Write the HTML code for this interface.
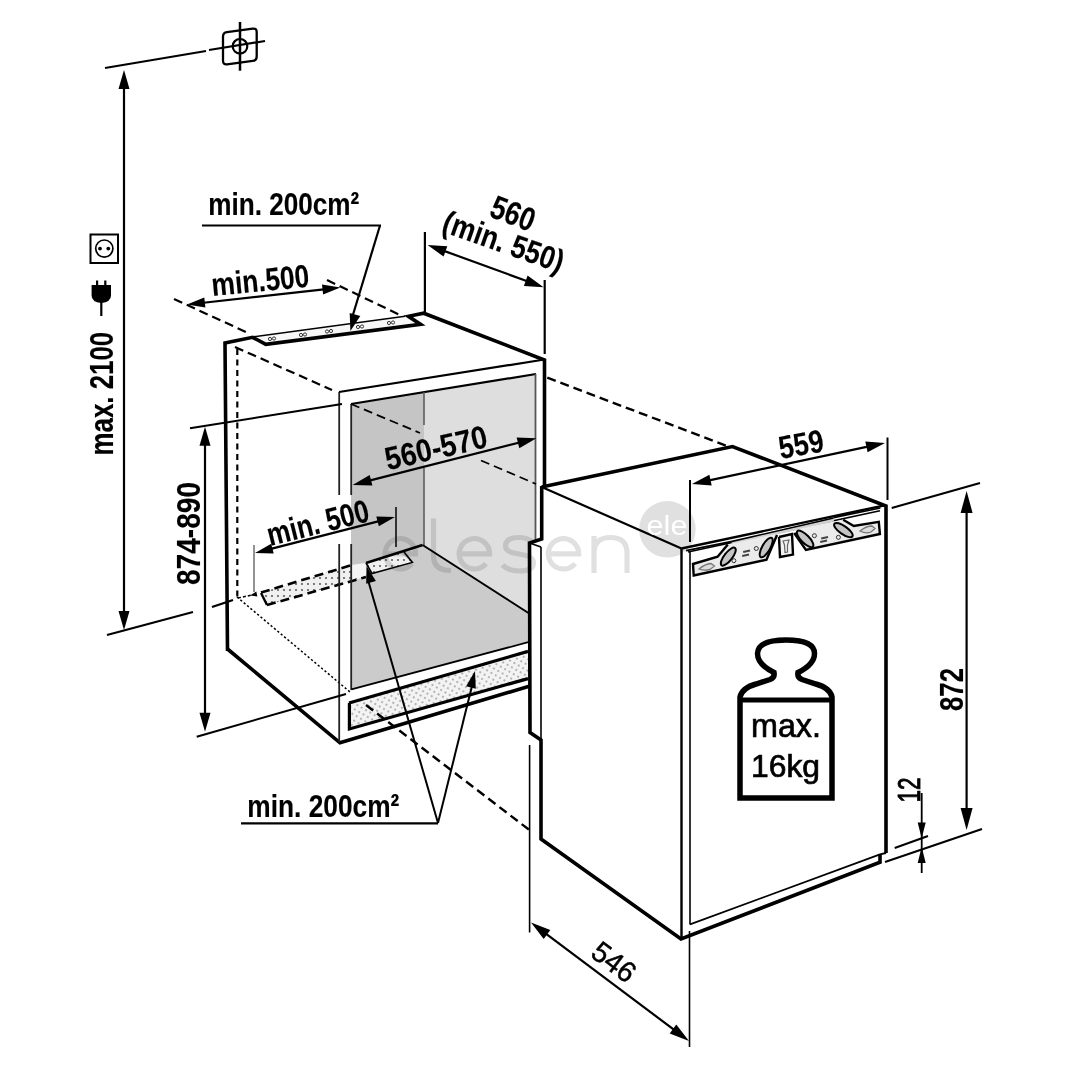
<!DOCTYPE html>
<html><head><meta charset="utf-8"><style>
html,body{margin:0;padding:0;background:#fff;}
svg{display:block;will-change:transform;}
</style></head><body>
<svg width="1080" height="1080" viewBox="0 0 1080 1080">
<rect width="1080" height="1080" fill="#fff"/>
<polygon points="351.0,404.0 424.0,392.0 424.0,545.0 530.0,614.0 530.0,641.0 351.0,690.0" fill="#cbcbcb"/>
<polygon points="351.0,404.0 424.0,392.0 424.0,545.0 366.0,563.0 351.0,567.0" fill="#c5c5c5"/>
<polygon points="424.0,392.0 536.0,374.0 536.0,541.0 530.0,543.0 530.0,614.0 424.0,545.0" fill="#dedede"/>
<line x1="105" y1="68" x2="206" y2="51" stroke="#000" stroke-width="2.2" stroke-linecap="butt"/>
<line x1="209" y1="50" x2="265" y2="41" stroke="#000" stroke-width="2.2" stroke-linecap="butt"/>
<path d="M223,36.6 Q223,32.6 227,32.1 L252.7,28.6 Q256.7,28.1 256.7,32.1 L256.7,56.4 Q256.7,60.4 252.7,60.9 L227,64.3 Q223,64.8 223,60.8 Z" fill="none" stroke="#000" stroke-width="2.3"/>
<circle cx="240" cy="46.3" r="7.3" fill="none" stroke="#000" stroke-width="2.2"/>
<line x1="240" y1="22" x2="240" y2="70.7" stroke="#000" stroke-width="2.5" stroke-linecap="butt"/>
<line x1="124" y1="86" x2="124" y2="612" stroke="#000" stroke-width="2.2" stroke-linecap="butt"/>
<polygon points="124.0,70.0 129.5,89.0 118.5,89.0" fill="#000"/>
<polygon points="124.0,630.0 118.5,611.0 129.5,611.0" fill="#000"/>
<line x1="107" y1="635" x2="193" y2="612" stroke="#000" stroke-width="2.2" stroke-linecap="butt"/>
<line x1="212" y1="607" x2="233" y2="600" stroke="#000" stroke-width="2.2" stroke-linecap="butt"/>
<rect x="90.5" y="234.5" width="27.5" height="28.5" fill="none" stroke="#000" stroke-width="2"/>
<circle cx="104.3" cy="248.6" r="8.6" fill="none" stroke="#000" stroke-width="1.7"/>
<circle cx="100" cy="248.6" r="1.9" fill="#000"/><circle cx="108.3" cy="248.6" r="1.9" fill="#000"/>
<path d="M91.6,285 H111 V295.5 Q111,302 101.3,303 Q91.6,302 91.6,295.5 Z" fill="#000"/>
<rect x="96" y="280.5" width="2.2" height="5" fill="#000"/><rect x="104.2" y="280.5" width="2.2" height="5" fill="#000"/>
<line x1="101.3" y1="302" x2="101.3" y2="316" stroke="#000" stroke-width="2.2" stroke-linecap="butt"/>
<text transform="translate(113.3,455.4) rotate(-90)" font-family="Liberation Sans" font-weight="bold" font-size="33" text-anchor="start" fill="#000" textLength="123.6" lengthAdjust="spacingAndGlyphs" stroke="#000" stroke-width="0.15">max. 2100</text>
<line x1="174" y1="299" x2="246" y2="332" stroke="#000" stroke-width="2.2" stroke-linecap="butt" stroke-dasharray="9 5"/>
<line x1="327" y1="280" x2="400" y2="315" stroke="#000" stroke-width="2.2" stroke-linecap="butt" stroke-dasharray="9 5"/>
<line x1="201.31135599544805" y1="303.0046663134149" x2="326.08864400455195" y2="289.09533368658515" stroke="#000" stroke-width="2.2" stroke-linecap="butt"/>
<polygon points="187.0,304.6 204.3,297.6 205.4,307.6" fill="#000"/>
<polygon points="340.4,287.5 323.1,294.5 322.0,284.5" fill="#000"/>
<text transform="translate(212.6,296) rotate(-5.5)" font-family="Liberation Sans" font-weight="bold" font-size="32" text-anchor="start" fill="#000" textLength="98" lengthAdjust="spacingAndGlyphs" stroke="#000" stroke-width="0.15">min.500</text>
<line x1="424.9" y1="232" x2="424.9" y2="312" stroke="#000" stroke-width="2.2" stroke-linecap="butt"/>
<line x1="544.7" y1="280" x2="544.7" y2="354" stroke="#000" stroke-width="2.2" stroke-linecap="butt"/>
<line x1="441.8801816586242" y1="250.1073421048259" x2="529.3198183413758" y2="281.9926578951741" stroke="#000" stroke-width="2.2" stroke-linecap="butt"/>
<polygon points="427.6,244.9 447.3,246.2 443.6,256.6" fill="#000"/>
<polygon points="543.6,287.2 523.9,285.9 527.6,275.5" fill="#000"/>
<text transform="translate(509,224) rotate(21)" font-family="Liberation Sans" font-weight="bold" font-size="33" text-anchor="middle" fill="#000" textLength="45" lengthAdjust="spacingAndGlyphs" stroke="#000" stroke-width="0.15">560</text>
<text transform="translate(500,252) rotate(19.5)" font-family="Liberation Sans" font-weight="bold" font-size="32" text-anchor="middle" fill="#000" textLength="126" lengthAdjust="spacingAndGlyphs" stroke="#000" stroke-width="0.15">(min. 550)</text>
<defs><pattern id="dots" width="6" height="6" patternUnits="userSpaceOnUse"><rect width="6" height="6" fill="#f0f0f0"/><circle cx="2" cy="2" r="0.9" fill="#444"/></pattern><pattern id="dots2" width="5" height="5" patternUnits="userSpaceOnUse" patternTransform="rotate(30)"><rect width="5" height="5" fill="#f3f3f3"/><circle cx="2" cy="2" r="0.75" fill="#555"/></pattern></defs>
<polygon points="252.6,337.3 265.8,344.4 420.6,324.4 408.4,316.3" fill="#f7f7f7"/>
<circle cx="270" cy="339" r="1.6" fill="none" stroke="#222" stroke-width="0.9"/><circle cx="274" cy="338.5" r="1.6" fill="none" stroke="#222" stroke-width="0.9"/>
<circle cx="301" cy="335" r="1.6" fill="none" stroke="#222" stroke-width="0.9"/><circle cx="305" cy="334.5" r="1.6" fill="none" stroke="#222" stroke-width="0.9"/>
<circle cx="327" cy="331.5" r="1.6" fill="none" stroke="#222" stroke-width="0.9"/><circle cx="331" cy="331.0" r="1.6" fill="none" stroke="#222" stroke-width="0.9"/>
<circle cx="358" cy="327" r="1.6" fill="none" stroke="#222" stroke-width="0.9"/><circle cx="362" cy="326.5" r="1.6" fill="none" stroke="#222" stroke-width="0.9"/>
<circle cx="389" cy="323" r="1.6" fill="none" stroke="#222" stroke-width="0.9"/><circle cx="393" cy="322.5" r="1.6" fill="none" stroke="#222" stroke-width="0.9"/>
<line x1="253.6" y1="336.7" x2="405" y2="316.3" stroke="#000" stroke-width="1.5" stroke-linecap="butt"/>
<polyline points="227.5,651.0 225.0,343.0 252.6,337.3 265.8,344.4 420.6,324.4 408.4,316.3 423.7,313.2 544.5,360.0 544.5,487.0" fill="none" stroke="#000" stroke-width="3.6" stroke-linejoin="miter"/>
<polyline points="227.5,649.0 340.0,742.8 530.0,686.0" fill="none" stroke="#000" stroke-width="3.6" stroke-linejoin="miter"/>
<line x1="237.3" y1="349" x2="237.3" y2="597" stroke="#000" stroke-width="2.2" stroke-linecap="butt" stroke-dasharray="6 4.5"/>
<line x1="235" y1="347" x2="332" y2="390" stroke="#000" stroke-width="2.2" stroke-linecap="butt" stroke-dasharray="9 5"/>
<line x1="237" y1="597" x2="350" y2="692" stroke="#000" stroke-width="1.5" stroke-linecap="butt" stroke-dasharray="2.2 2.2"/>
<polygon points="261.0,592.5 352.0,565.0 366.0,577.0 267.0,605.0" fill="url(#dots)"/>
<polyline points="261.0,592.5 352.0,565.0" fill="none" stroke="#000" stroke-width="2.6" stroke-linejoin="miter" stroke-dasharray="9 5"/>
<polyline points="267.0,605.0 366.0,577.0" fill="none" stroke="#000" stroke-width="2.6" stroke-linejoin="miter" stroke-dasharray="9 5"/>
<line x1="261" y1="593" x2="267" y2="605" stroke="#000" stroke-width="2.4" stroke-linecap="butt"/>
<line x1="238" y1="598" x2="252" y2="595" stroke="#000" stroke-width="1.5" stroke-linecap="butt" stroke-dasharray="3 2"/>
<polygon points="250.0,595.5 256.3,591.5 257.4,596.4" fill="#000"/>
<polygon points="366.0,563.0 400.0,553.0 412.4,562.4 372.6,573.5" fill="url(#dots)"/>
<polygon points="351.0,565.0 366.0,563.0 372.6,573.5 353.0,579.0" fill="#f4f4f4"/>
<polyline points="366.0,563.0 372.0,573.5 412.4,562.4 404.0,552.0" fill="none" stroke="#000" stroke-width="1.6" stroke-linejoin="miter"/>
<line x1="339.2" y1="392" x2="339.2" y2="495" stroke="#222" stroke-width="1.8" stroke-linecap="butt"/>
<line x1="339.2" y1="544" x2="339.2" y2="742" stroke="#222" stroke-width="1.8" stroke-linecap="butt"/>
<line x1="339" y1="392" x2="544.5" y2="359.5" stroke="#000" stroke-width="2.2" stroke-linecap="butt"/>
<line x1="351.2" y1="404" x2="351.2" y2="495" stroke="#222" stroke-width="1.8" stroke-linecap="butt"/>
<line x1="351.2" y1="544" x2="351.2" y2="690" stroke="#222" stroke-width="1.8" stroke-linecap="butt"/>
<line x1="351" y1="404" x2="536" y2="374" stroke="#000" stroke-width="2.2" stroke-linecap="butt"/>
<line x1="535.5" y1="374" x2="535.5" y2="540" stroke="#555" stroke-width="1.8" stroke-linecap="butt"/>
<line x1="424" y1="392" x2="424" y2="425" stroke="#555" stroke-width="1.5" stroke-linecap="butt"/>
<line x1="424" y1="468" x2="424" y2="545" stroke="#555" stroke-width="1.5" stroke-linecap="butt"/>
<line x1="351" y1="404" x2="420" y2="433" stroke="#000" stroke-width="1.8" stroke-linecap="butt" stroke-dasharray="9 5"/>
<line x1="481" y1="460.5" x2="536" y2="484" stroke="#000" stroke-width="1.8" stroke-linecap="butt" stroke-dasharray="9 5"/>
<line x1="366" y1="563" x2="422.6" y2="545" stroke="#000" stroke-width="2.6" stroke-linecap="butt"/>
<line x1="422.6" y1="545" x2="530" y2="614" stroke="#000" stroke-width="2.0" stroke-linecap="butt"/>
<line x1="351.4" y1="689.3" x2="530" y2="641.7" stroke="#000" stroke-width="1.8" stroke-linecap="butt"/>
<polygon points="349.0,703.0 528.0,651.4 528.0,678.6 349.4,729.0" fill="url(#dots2)"/>
<polyline points="349.0,703.0 528.0,651.4" fill="none" stroke="#000" stroke-width="3.2" stroke-linejoin="miter"/>
<polyline points="528.0,678.6 349.4,729.0 349.4,703.0" fill="none" stroke="#000" stroke-width="3.2" stroke-linejoin="miter"/>
<text transform="translate(208.3,215) rotate(0)" font-family="Liberation Sans" font-weight="bold" font-size="32" text-anchor="start" fill="#000" textLength="151" lengthAdjust="spacingAndGlyphs" stroke="#000" stroke-width="0.15">min. 200cm²</text>
<line x1="202" y1="225.5" x2="381" y2="225.5" stroke="#000" stroke-width="2.2" stroke-linecap="butt"/>
<line x1="380" y1="225.5" x2="352" y2="318" stroke="#000" stroke-width="2.2" stroke-linecap="butt"/>
<polygon points="350.4,331.0 349.7,313.1 360.3,316.1" fill="#000"/>
<line x1="190" y1="428.3" x2="342" y2="404" stroke="#000" stroke-width="2.0" stroke-linecap="butt"/>
<line x1="196.7" y1="736.7" x2="346" y2="694" stroke="#000" stroke-width="2.0" stroke-linecap="butt"/>
<line x1="205.0" y1="441.9" x2="205.0" y2="716.5" stroke="#000" stroke-width="2.2" stroke-linecap="butt"/>
<polygon points="205.0,426.7 210.5,445.7 199.5,445.7" fill="#000"/>
<polygon points="205.0,731.7 199.5,712.7 210.5,712.7" fill="#000"/>
<text transform="translate(200,585) rotate(-90)" font-family="Liberation Sans" font-weight="bold" font-size="33" text-anchor="start" fill="#000" textLength="103" lengthAdjust="spacingAndGlyphs" stroke="#000" stroke-width="0.15">874-890</text>
<line x1="254" y1="545" x2="254" y2="592" stroke="#777" stroke-width="1.6" stroke-linecap="butt"/>
<line x1="396" y1="507" x2="396" y2="547" stroke="#222" stroke-width="1.8" stroke-linecap="butt"/>
<line x1="268.94629822939464" y1="549.4138090267271" x2="381.05370177060536" y2="520.5861909732729" stroke="#000" stroke-width="2.2" stroke-linecap="butt"/>
<polygon points="255.0,553.0 271.2,543.7 273.7,553.4" fill="#000"/>
<polygon points="395.0,517.0 378.8,526.3 376.3,516.6" fill="#000"/>
<text transform="translate(270,546) rotate(-14)" font-family="Liberation Sans" font-weight="bold" font-size="32" text-anchor="start" fill="#000" textLength="104" lengthAdjust="spacingAndGlyphs" stroke="#000" stroke-width="0.15">min. 500</text>
<line x1="367.331913016575" y1="481.1569078461694" x2="521.6680869834249" y2="441.94309215383055" stroke="#000" stroke-width="2.2" stroke-linecap="butt"/>
<polygon points="352.6,484.9 369.7,474.9 372.4,485.6" fill="#000"/>
<polygon points="536.4,438.2 519.3,448.2 516.6,437.5" fill="#000"/>
<text transform="translate(438.5,458.5) rotate(-13)" font-family="Liberation Sans" font-weight="bold" font-size="32" text-anchor="middle" fill="#000" textLength="104" lengthAdjust="spacingAndGlyphs" stroke="#000" stroke-width="0.15">560-570</text>
<text transform="translate(247.3,816.9) rotate(0)" font-family="Liberation Sans" font-weight="bold" font-size="32" text-anchor="start" fill="#000" textLength="152" lengthAdjust="spacingAndGlyphs" stroke="#000" stroke-width="0.15">min. 200cm²</text>
<line x1="241" y1="823.4" x2="438" y2="823.4" stroke="#000" stroke-width="2.2" stroke-linecap="butt"/>
<line x1="438" y1="823" x2="368" y2="580" stroke="#000" stroke-width="2.0" stroke-linecap="butt"/>
<polygon points="366.5,566.0 375.9,581.0 366.2,583.7" fill="#000"/>
<line x1="438" y1="823" x2="472" y2="686" stroke="#000" stroke-width="2.0" stroke-linecap="butt"/>
<polygon points="475.0,671.0 475.8,688.7 466.1,686.3" fill="#000"/>
<line x1="366" y1="705" x2="532" y2="832" stroke="#000" stroke-width="2.4" stroke-linecap="butt" stroke-dasharray="9 5"/>
<line x1="547.3" y1="377.7" x2="729.6" y2="447" stroke="#000" stroke-width="2.4" stroke-linecap="butt" stroke-dasharray="9 5"/>
<polygon points="541.7,487.0 732.0,446.0 886.0,506.0 886.0,852.0 681.0,939.0 540.0,839.0 540.0,740.0 530.0,733.0 530.0,543.0 541.7,539.0" fill="#fff"/>
<polyline points="541.7,487.0 732.5,446.5 886.0,506.0 886.0,853.0" fill="none" stroke="#000" stroke-width="3.6" stroke-linejoin="miter"/>
<line x1="541.7" y1="487" x2="681.5" y2="548.5" stroke="#000" stroke-width="2.2" stroke-linecap="butt"/>
<line x1="681.5" y1="548.5" x2="884.7" y2="505.3" stroke="#000" stroke-width="2.4" stroke-linecap="butt"/>
<line x1="688" y1="552" x2="880" y2="510.7" stroke="#000" stroke-width="1.6" stroke-linecap="butt"/>
<polyline points="541.7,486.0 541.7,539.0 529.5,543.0 530.0,732.6 541.0,740.0 541.0,839.0 681.0,939.0 880.0,862.2 880.0,854.4" fill="none" stroke="#000" stroke-width="3.6" stroke-linejoin="miter"/>
<line x1="529.5" y1="543" x2="541" y2="547" stroke="#000" stroke-width="1.6" stroke-linecap="butt"/>
<line x1="541" y1="547" x2="541" y2="740" stroke="#000" stroke-width="1.6" stroke-linecap="butt"/>
<line x1="529.6" y1="745" x2="529.6" y2="932.5" stroke="#000" stroke-width="1.6" stroke-linecap="butt"/>
<line x1="681.5" y1="548.5" x2="681.5" y2="938" stroke="#000" stroke-width="2.4" stroke-linecap="butt"/>
<line x1="690" y1="552" x2="690" y2="924.4" stroke="#000" stroke-width="1.6" stroke-linecap="butt"/>
<line x1="690" y1="924.4" x2="880" y2="854.4" stroke="#000" stroke-width="1.8" stroke-linecap="butt"/>
<line x1="886" y1="853" x2="880" y2="854.4" stroke="#000" stroke-width="2" stroke-linecap="butt"/>
<line x1="689.5" y1="931" x2="689.5" y2="1047" stroke="#000" stroke-width="1.6" stroke-linecap="butt"/>
<polygon points="731.0,541.6 833.6,518.0 834.0,521.5 733.0,544.5" fill="#d0d0d0"/>
<line x1="731" y1="541.6" x2="833.6" y2="518" stroke="#000" stroke-width="1.6" stroke-linecap="butt"/>
<line x1="686" y1="550.6" x2="731" y2="541.6" stroke="#000" stroke-width="1.6" stroke-linecap="butt"/>
<line x1="833.6" y1="517.6" x2="880.4" y2="508" stroke="#000" stroke-width="1.6" stroke-linecap="butt"/>
<polygon points="693.0,564.0 717.6,556.7 727.8,544.4 776.0,534.0 766.5,559.7 693.7,575.5" fill="#ebebeb"/>
<polyline points="727.8,544.4 717.6,556.7 693.0,564.0 693.7,575.5 766.5,559.7 777.0,535.0" fill="none" stroke="#000" stroke-width="2.4" stroke-linejoin="miter"/>
<polygon points="779.0,537.0 792.0,534.0 793.0,554.6 780.0,557.0" fill="#f2f2f2"/>
<polyline points="779.0,537.0 792.0,534.0 793.0,554.6 780.0,557.0 779.0,537.0" fill="none" stroke="#000" stroke-width="2.4" stroke-linejoin="miter"/>
<path d="M783,541 L789,540 L787.5,545 L787.5,552 L785,552.5 L784.5,545 Z" fill="none" stroke="#666" stroke-width="1.2"/>
<polygon points="794.2,533.0 805.9,550.0 879.9,534.0 878.8,521.8 853.8,526.0 843.2,519.7 798.0,529.0" fill="#ebebeb"/>
<polyline points="794.2,533.0 805.9,550.0 879.9,534.0 878.8,521.8 853.8,526.0 843.2,519.7" fill="none" stroke="#000" stroke-width="2.4" stroke-linejoin="miter"/>
<ellipse cx="728.3" cy="556.6" rx="11" ry="4" transform="rotate(-52 728.3 556.6)" fill="#c4c4c4" stroke="#000" stroke-width="2"/>
<ellipse cx="766.2" cy="547.5" rx="11" ry="4" transform="rotate(-60 766.2 547.5)" fill="#c4c4c4" stroke="#000" stroke-width="2"/>
<ellipse cx="805.1" cy="538.9" rx="11" ry="4" transform="rotate(45 805.1 538.9)" fill="#c4c4c4" stroke="#000" stroke-width="2"/>
<ellipse cx="843.4" cy="530.1" rx="11" ry="4" transform="rotate(35 843.4 530.1)" fill="#c4c4c4" stroke="#000" stroke-width="2"/>
<circle cx="733.9" cy="560.7" r="2" fill="none" stroke="#333" stroke-width="1"/>
<circle cx="756.3" cy="548.5" r="2" fill="none" stroke="#333" stroke-width="1"/>
<circle cx="814.4" cy="535.7" r="2" fill="none" stroke="#333" stroke-width="1"/>
<circle cx="838.4" cy="537.3" r="2" fill="none" stroke="#333" stroke-width="1"/>
<rect x="742" y="555" width="7" height="2" fill="#444" transform="rotate(-12 742 555)"/>
<rect x="743" y="551" width="7" height="2" fill="#444" transform="rotate(-12 743 551)"/>
<rect x="820" y="541" width="7" height="2" fill="#444" transform="rotate(-12 820 541)"/>
<rect x="821" y="537.5" width="7" height="2" fill="#444" transform="rotate(-12 821 537.5)"/>
<path d="M699,569 Q705,564 711,563.5 L714.5,566 L710,569.5 Q704,571 699,569 Z" fill="#ddd" stroke="#777" stroke-width="1.3"/>
<path d="M860,531 Q866,526 872,526 L875,528.5 L871,532 Q866,534 860,531 Z" fill="#ddd" stroke="#777" stroke-width="1.3"/>
<line x1="690" y1="480" x2="690" y2="542" stroke="#000" stroke-width="2.0" stroke-linecap="butt"/>
<line x1="887.5" y1="437.5" x2="887.5" y2="500" stroke="#000" stroke-width="2.0" stroke-linecap="butt"/>
<line x1="706.8682102947745" y1="480.8414682793484" x2="870.1317897052255" y2="446.1585317206516" stroke="#000" stroke-width="2.2" stroke-linecap="butt"/>
<polygon points="692.0,484.0 709.4,474.7 711.7,485.4" fill="#000"/>
<polygon points="885.0,443.0 867.6,452.3 865.3,441.6" fill="#000"/>
<text transform="translate(803,455) rotate(-10)" font-family="Liberation Sans" font-weight="bold" font-size="32" text-anchor="middle" fill="#000" textLength="45" lengthAdjust="spacingAndGlyphs" stroke="#000" stroke-width="0.15">559</text>
<line x1="891.7" y1="508" x2="980" y2="483" stroke="#000" stroke-width="2.0" stroke-linecap="butt"/>
<line x1="885" y1="862" x2="982" y2="829" stroke="#000" stroke-width="2.0" stroke-linecap="butt"/>
<line x1="966.6" y1="508.6" x2="966.6" y2="812.4" stroke="#000" stroke-width="2.2" stroke-linecap="butt"/>
<polygon points="966.6,491.0 972.6,513.0 960.6,513.0" fill="#000"/>
<polygon points="966.6,830.0 960.6,808.0 972.6,808.0" fill="#000"/>
<text transform="translate(962.8,711) rotate(-90)" font-family="Liberation Sans" font-weight="bold" font-size="33" text-anchor="start" fill="#000" textLength="43" lengthAdjust="spacingAndGlyphs" stroke="#000" stroke-width="0.15">872</text>
<line x1="894.7" y1="848" x2="928" y2="836" stroke="#000" stroke-width="2.0" stroke-linecap="butt"/>
<line x1="921.7" y1="793" x2="921.7" y2="873" stroke="#000" stroke-width="1.8" stroke-linecap="butt"/>
<polygon points="921.7,838.6 917.7,822.6 925.7,822.6" fill="#000"/>
<polygon points="921.7,847.0 925.7,863.0 917.7,863.0" fill="#000"/>
<text transform="translate(919.7,802.5) rotate(-90)" font-family="Liberation Sans" font-weight="normal" font-size="31" text-anchor="start" fill="#000" textLength="25" lengthAdjust="spacingAndGlyphs" stroke="#000" stroke-width="0.9">12</text>
<line x1="543.8" y1="932.1" x2="676.2" y2="1031.4" stroke="#000" stroke-width="2.2" stroke-linecap="butt"/>
<polygon points="531.0,922.5 550.3,930.1 543.7,938.9" fill="#000"/>
<polygon points="689.0,1041.0 669.7,1033.4 676.3,1024.6" fill="#000"/>
<text transform="translate(608,970) rotate(37)" font-family="Liberation Sans" font-weight="normal" font-size="29" text-anchor="middle" fill="#000" textLength="47" lengthAdjust="spacingAndGlyphs" stroke="#000" stroke-width="0.5">546</text>
<path d="M740,798 L740,697 Q742,688 756,684 L770,679.5 Q775,677.5 774,672.5 Q757.5,664.5 757.5,653.5 Q758,640 786,640 Q814.5,640 814.5,653.5 Q814.5,664.5 798,672.5 Q797,677.5 802,679.5 L816,684 Q830,688 832,697 L832,798 Z" fill="none" stroke="#000" stroke-width="5.5" stroke-linejoin="miter"/>
<line x1="740" y1="700" x2="832" y2="700" stroke="#000" stroke-width="5" stroke-linecap="butt"/>
<text transform="translate(751,737) rotate(0)" font-family="Liberation Sans" font-weight="normal" font-size="34" text-anchor="start" fill="#000" textLength="70" lengthAdjust="spacingAndGlyphs" stroke="#000" stroke-width="0.7">max.</text>
<text transform="translate(751,777) rotate(0)" font-family="Liberation Sans" font-weight="normal" font-size="31" text-anchor="start" fill="#000" textLength="69" lengthAdjust="spacingAndGlyphs" stroke="#000" stroke-width="0.7">16kg</text>
<path d="M385.1,553.8 H415.5 A15.2,15.2 0 1 0 411.9,563.6 M459.2,553.8 H489.59999999999997 A15.2,15.2 0 1 0 486.0,563.6 M548.3,553.8 H578.7 A15.2,15.2 0 1 0 575.1,563.6 M433.5,518.5 V556 Q433.5,570.5 451,570.5 M533,542 Q527,537.5 519,537.5 Q505.5,537.5 505.5,546 Q505.5,552.5 519,554 Q533.5,556 533.5,563 Q533.5,571 519,571 Q508,571 502.5,565 M594,573 V536 M594,553 Q594,537.5 610.5,537.5 Q627,537.5 627,553 V573" stroke="#000" stroke-opacity="0.12" fill="none" stroke-width="5.2" stroke-linecap="butt"/>
<circle cx="667.4" cy="529.3" r="28.3" fill="#000" fill-opacity="0.12"/>
<text x="667" y="535.2" font-family="Liberation Sans" font-size="27" fill="#fff" text-anchor="middle" textLength="41" lengthAdjust="spacingAndGlyphs">ele</text>
</svg></body></html>
